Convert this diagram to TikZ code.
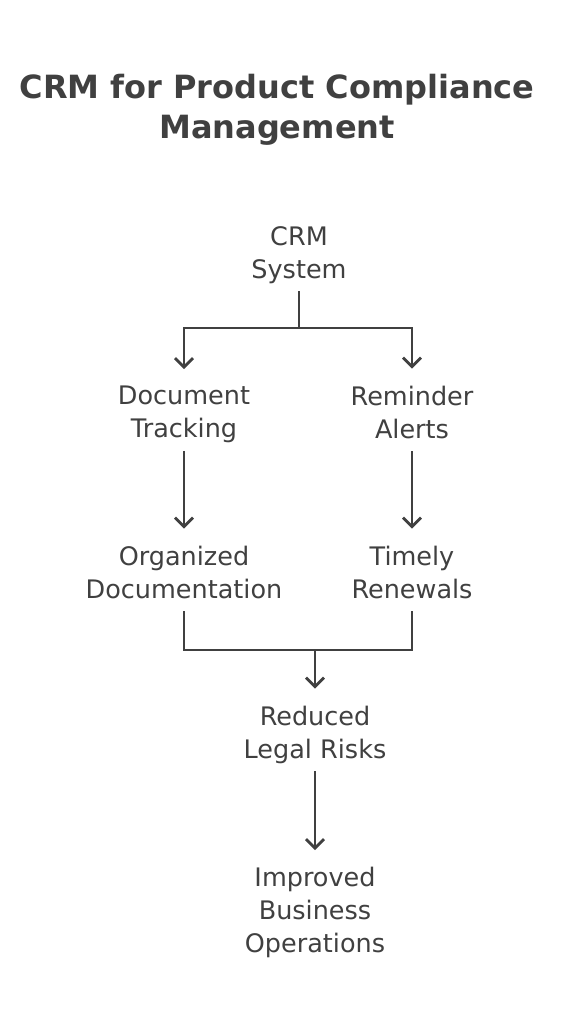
\documentclass[tikz,border=0pt]{standalone}
\usepackage{fontspec}
\setmainfont{DejaVu Sans}
\usepackage{xcolor}
\usepackage{tikz}
\usetikzlibrary{arrows.meta}
\definecolor{ink}{HTML}{404040}

\tikzset{
	box/.style = {text = ink, align = center, inner xsep = 7pt, inner ysep = 3pt, font = \fontsize{25.5}{33}\selectfont,
		execute at begin node = \strut, execute at end node = \strut},
	heading/.style = {text = ink, align = center, font = \bfseries\fontsize{32}{40}\selectfont},
	link/.style = {draw = ink, line width = 2.8pt},
	arrow/.style = {link, shorten > = 14pt, -{Straight Barb[length = 9pt, width = 18pt]}}
}

\begin{document}
\begin{tikzpicture}[x = 1pt, y = -1pt]
		\useasboundingbox (0,0) rectangle (565,1024);
		\node[heading] (title) at (277,110) {CRM for Product Compliance\\Management};
		\node[box] (crm) at (299,257) {CRM\\System};
		\node[box] (doc) at (184,417) {Document\\Tracking};
		\node[box] (rem) at (412,417) {Reminder\\Alerts};
		\node[box] (org) at (184,577) {Organized\\Documentation};
		\node[box] (tim) at (412,577) {Timely\\Renewals};
		\node[box] (red) at (315,737) {Reduced\\Legal Risks};
		\node[box] (imp) at (315,915) {Improved\\Business\\Operations};
		\coordinate (fork) at (299,328);
		\coordinate (join) at (315,650);
		\draw[link] (crm) -- (fork);
		\draw[arrow] (fork) -| (doc);
		\draw[arrow] (fork) -| (rem);
		\draw[arrow] (doc) -- (org);
		\draw[arrow] (rem) -- (tim);
		\draw[link] (org) |- (join);
		\draw[link] (tim) |- (join);
		\draw[arrow] (join) -- (red);
		\draw[arrow] (red) -- (imp);
	\end{tikzpicture}
\end{document}
